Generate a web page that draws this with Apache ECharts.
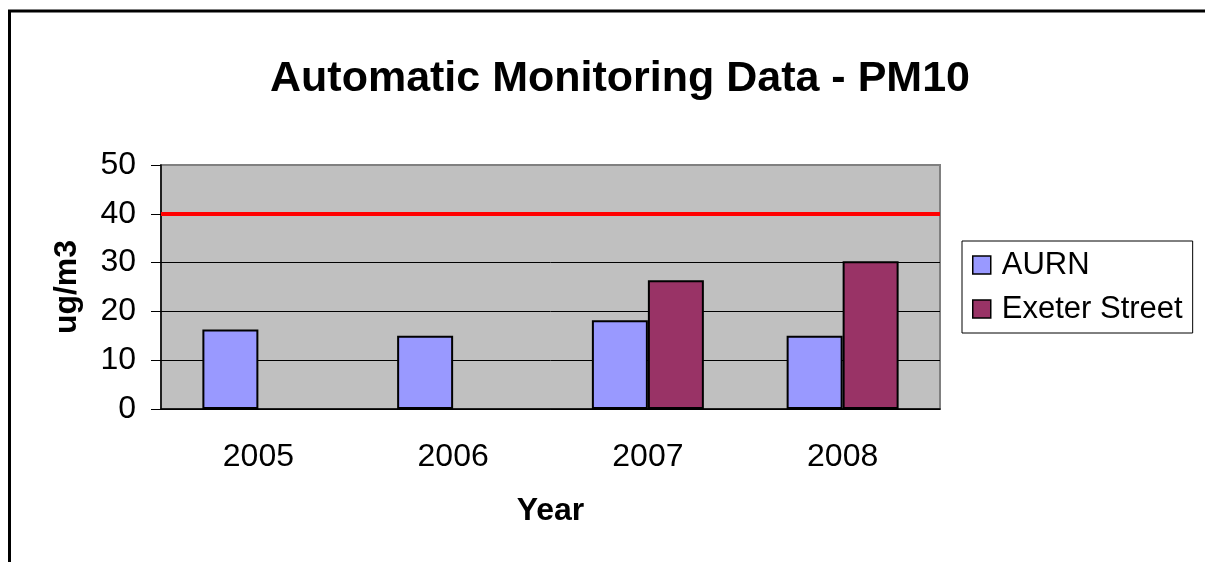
<!DOCTYPE html>
<html>
<head>
<meta charset="utf-8">
<script src="https://cdn.jsdelivr.net/npm/echarts@6/dist/echarts.min.js"></script>
<style>
html, body { margin: 0; padding: 0; background: #fff; }
#chart { width: 1205px; height: 562px; }
</style>
</head>
<body>
<div id="chart"></div>
<script>
// values
var years = ['2005', '2006', '2007', '2008'];
var aurn = [16.3, 15.0, 18.2, 15.0];
var exeterStreet = [null, null, 26.4, 30.3];
var objective = 40;
var yTicks = [0, 10, 20, 30, 40, 50];

var font = 'Liberation Sans, Arial, sans-serif';

var chart = echarts.init(document.getElementById('chart'));
chart.setOption({
	animation: false,
	backgroundColor: '#ffffff',
	textStyle: { fontFamily: font },
	title: {
		text: 'Automatic Monitoring Data - PM10',
		left: 265,
		top: 53,
		textStyle: { fontSize: 43, fontWeight: 'bold', color: '#000', fontFamily: font }
	},
	legend: {
		orient: 'vertical',
		left: 962,
		top: 241,
		padding: [8, 10, 8, 10],
		borderColor: '#000',
		borderWidth: 1,
		icon: 'rect',
		itemWidth: 18,
		itemHeight: 18,
		itemGap: 12,
		itemStyle: { borderColor: '#000', borderWidth: 1.5 },
		textStyle: { fontSize: 31, color: '#000', lineHeight: 32, padding: [0, 0, 0, 6], fontFamily: font },
		data: ['AURN', 'Exeter Street']
	},
	grid: {
		left: 161,
		right: 265,
		top: 165,
		bottom: 153,
		show: true,
		backgroundColor: '#C0C0C0',
		borderColor: '#808080',
		borderWidth: 2
	},
	graphic: [
		{
			type: 'polyline',
			shape: { points: [[9.5, 562], [9.5, 11], [1205, 11]] },
			style: { stroke: '#000', lineWidth: 3, fill: null }
		}
	],
	xAxis: {
		type: 'category',
		data: years,
		name: 'Year',
		nameLocation: 'middle',
		nameGap: 86,
		nameTextStyle: { fontSize: 32, fontWeight: 'bold', color: '#000', fontFamily: font },
		axisLine: { lineStyle: { color: '#000', width: 1.5 } },
		axisTick: { inside: true, length: 10, lineStyle: { color: '#000' } },
		axisLabel: { fontSize: 32, color: '#000', margin: 32, fontFamily: font },
		splitLine: { show: false }
	},
	yAxis: {
		type: 'value',
		min: yTicks[0],
		max: yTicks[yTicks.length - 1],
		interval: 10,
		name: 'ug/m3',
		nameLocation: 'middle',
		nameGap: 78,
		nameTextStyle: { fontSize: 32, fontWeight: 'bold', color: '#000', fontFamily: font },
		axisLine: { show: true, lineStyle: { color: '#000', width: 1.5 } },
		axisTick: { show: true, length: 10, lineStyle: { color: '#000' } },
		axisLabel: { fontSize: 32, color: '#000', margin: 25, fontFamily: font },
		splitLine: { showMaxLine: false, lineStyle: { color: '#000', width: 1 } }
	},
	series: [
		{
			name: 'AURN',
			type: 'bar',
			data: aurn,
			barGap: '0%',
			barCategoryGap: '42.5%',
			itemStyle: { color: '#9999FF', borderColor: '#000', borderWidth: 2 },
			markLine: {
				silent: true,
				symbol: 'none',
				label: { show: false },
				lineStyle: { color: '#FF0000', width: 4, type: 'solid' },
				data: [{ yAxis: objective }]
			}
		},
		{
			name: 'Exeter Street',
			type: 'bar',
			data: exeterStreet,
			itemStyle: { color: '#993366', borderColor: '#000', borderWidth: 2 }
		}
	]
});
</script>
</body>
</html>
